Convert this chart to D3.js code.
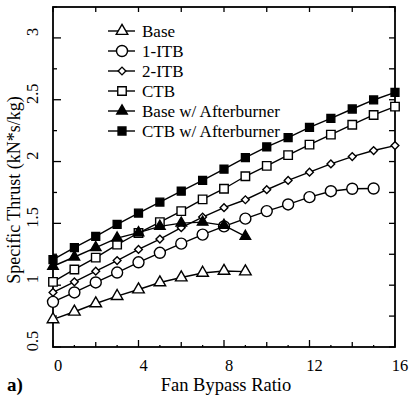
<!DOCTYPE html>
<html><head><meta charset="utf-8">
<script src="https://cdn.jsdelivr.net/npm/d3@7"></script>
<style>body{margin:0;background:#fff}svg{display:block}text{font-family:"Liberation Serif","Times New Roman",serif;fill:#000}</style>
</head><body>
<script>
const seriesNames = ["Base","1-ITB","2-ITB","CTB","Base w/ Afterburner","CTB w/ Afterburner"];
const base = [0.723,0.785,0.852,0.911,0.965,1.022,1.062,1.099,1.115,1.11];
const itb1 = [0.865,0.941,1.022,1.102,1.185,1.262,1.336,1.409,1.476,1.538,1.599,1.653,1.712,1.76,1.78,1.782];
const itb2 = [0.941,1.027,1.113,1.199,1.289,1.373,1.465,1.551,1.627,1.691,1.772,1.847,1.914,1.981,2.04,2.089,2.129];
const ctb = [1.027,1.127,1.223,1.328,1.422,1.51,1.599,1.694,1.78,1.881,1.965,2.052,2.137,2.218,2.298,2.377,2.444];
const baseAB = [1.153,1.228,1.304,1.381,1.425,1.476,1.502,1.51,1.484,1.395];
const ctbAB = [1.207,1.304,1.395,1.492,1.583,1.672,1.76,1.847,1.938,2.032,2.119,2.194,2.277,2.349,2.425,2.498,2.559];
const xTicks = [0,4,8,12,16];
const yTicks = [0.5,1,1.5,2,2.5,3];
const xTitle = "Fan Bypass Ratio";
const yTitle = "Specific Thrust (kN*s/kg)";

const W=411,H=401;
const svg=d3.select("body").append("svg").attr("width",W).attr("height",H);
const L=53,R=395,T=7,B=347;
const x=d3.scaleLinear().domain([0,16]).range([L,R]);
const y=d3.scaleLinear().domain([0.5,3.25]).range([B,T]);

const data=[base,itb1,itb2,ctb,baseAB,ctbAB];
const sym=[
 {t:d3.symbolTriangle,s:58,fill:"#fff",rot:0},
 {t:d3.symbolCircle,s:95,fill:"#fff",rot:0},
 {t:d3.symbolSquare,s:30,fill:"#fff",rot:45},
 {t:d3.symbolSquare,s:72,fill:"#fff",rot:0},
 {t:d3.symbolTriangle,s:48,fill:"#000",rot:0},
 {t:d3.symbolSquare,s:62,fill:"#000",rot:0}
];

const g=svg.append("g");
const tick=(x1,y1,x2,y2)=>g.append("line").attr("x1",x1).attr("y1",y1).attr("x2",x2).attr("y2",y2).attr("stroke","#000").attr("stroke-width",1.3);
d3.range(0.5,3.26,0.25).forEach(v=>{
  const major=Math.abs(v*2-Math.round(v*2))<1e-6;
  tick(L,y(v),L+(major?8:4),y(v));
  tick(R,y(v),R-6,y(v));
});
d3.range(0,17,1).forEach(v=>{
  const len = v%4===0?7:(v%2===0?5:2);
  tick(x(v),B,x(v),B-len);
  if(v%2===0) tick(x(v),T,x(v),T+5);
});
g.append("rect").attr("x",L).attr("y",T).attr("width",R-L).attr("height",B-T).attr("fill","none").attr("stroke","#000").attr("stroke-width",1.8);

svg.selectAll(".xl").data(xTicks).enter().append("text").attr("x",d=>x(d)+5).attr("y",371)
  .attr("text-anchor","middle").attr("font-size",16.5).text(d=>d);
svg.selectAll(".yl").data(yTicks).enter().append("text")
  .attr("transform",d=>`translate(38,${y(d)-6}) rotate(-90)`)
  .attr("text-anchor","middle").attr("font-size",16.5).text(d=>d);
svg.append("text").attr("x",226).attr("y",391).attr("text-anchor","middle").attr("font-size",18.5).text(xTitle);
svg.append("text").attr("transform",`translate(20,190) rotate(-90)`).attr("text-anchor","middle").attr("font-size",18).text(yTitle);
svg.append("text").attr("x",7).attr("y",391).attr("font-size",19).attr("font-weight","bold").text("a)");

const line=d3.line().x((d,i)=>x(i)).y(d=>y(d));
data.forEach((arr,k)=>{
  svg.append("path").attr("d",line(arr)).attr("fill","none").attr("stroke","#000").attr("stroke-width",1.4);
  svg.selectAll(".m"+k).data(arr).enter().append("path")
    .attr("d",d3.symbol().type(sym[k].t).size(sym[k].s))
    .attr("transform",(d,i)=>`translate(${x(i)},${y(d)}) rotate(${sym[k].rot})`)
    .attr("fill",sym[k].fill).attr("stroke","#000").attr("stroke-width",1.4);
});

const lg=svg.append("g");
const ly=[31,51,71,91,111,131];
seriesNames.forEach((n,k)=>{
  lg.append("line").attr("x1",108).attr("x2",135).attr("y1",ly[k]).attr("y2",ly[k]).attr("stroke","#000").attr("stroke-width",1.4);
  lg.append("path").attr("d",d3.symbol().type(sym[k].t).size(sym[k].s)).attr("transform",`translate(122,${ly[k]}) rotate(${sym[k].rot})`)
    .attr("fill",sym[k].fill).attr("stroke","#000").attr("stroke-width",1.4);
  lg.append("text").attr("x",142).attr("y",ly[k]+5.5).attr("font-size",17).text(n);
});
</script>
</body></html>
